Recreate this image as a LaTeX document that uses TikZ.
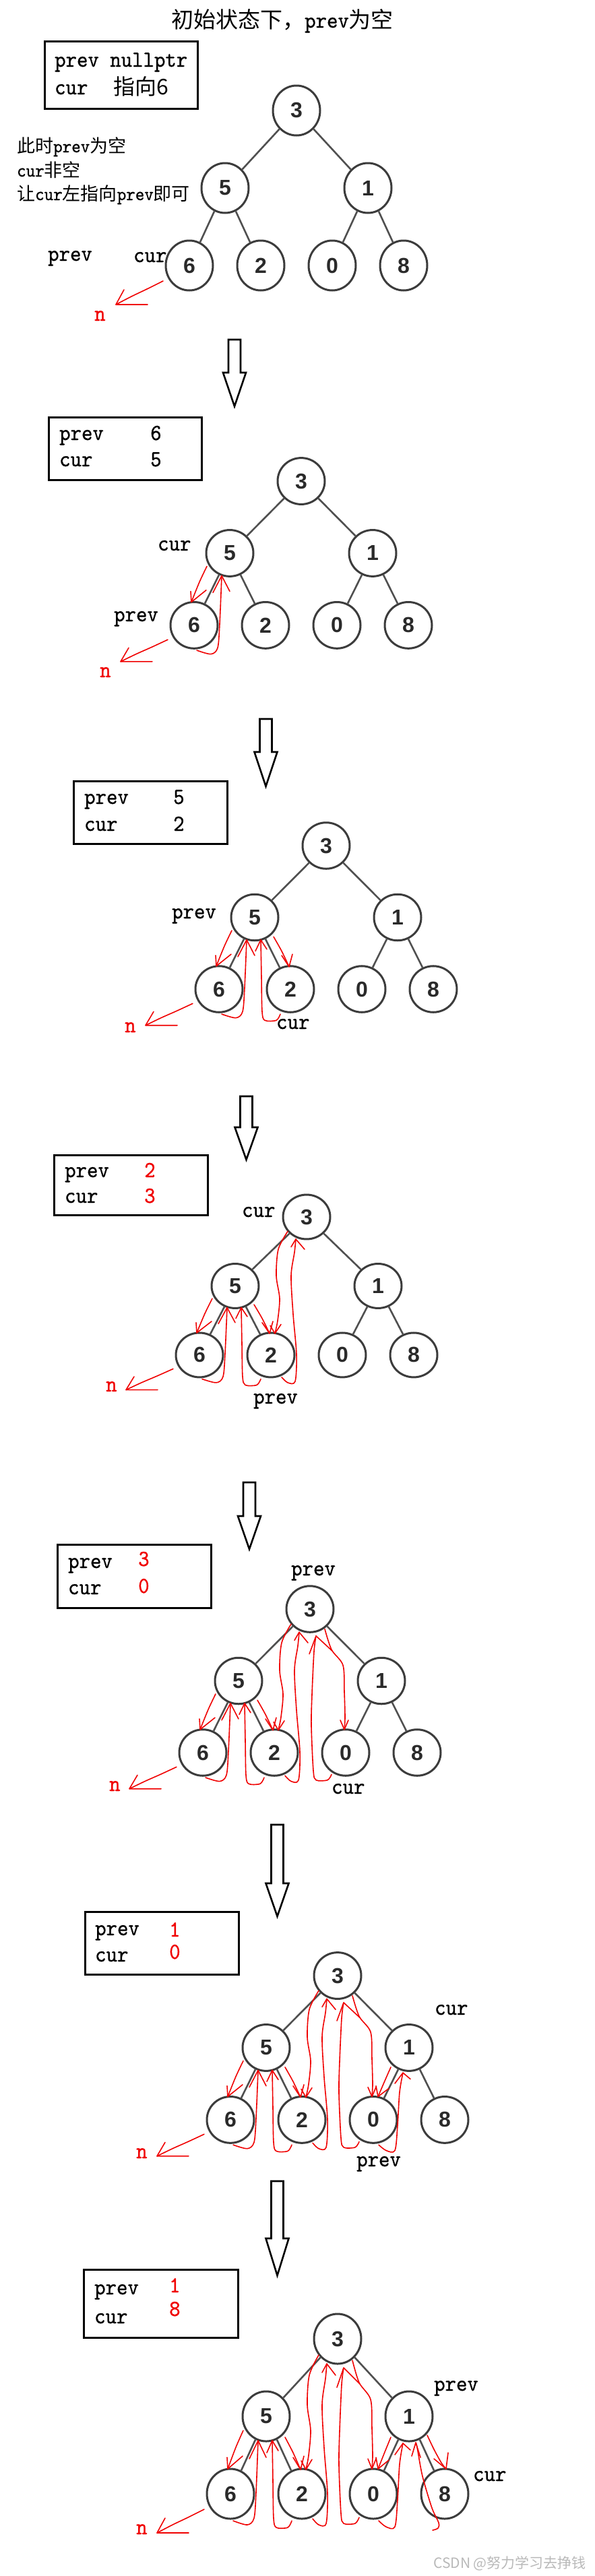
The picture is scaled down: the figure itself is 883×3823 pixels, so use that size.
\documentclass[tikz,border=0pt]{standalone}
\usepackage{fontspec}
\setmonofont{lmmono10-regular.otf}[FakeStretch=0.92,FakeBold=0.8]
\newfontfamily\cjk{Noto Sans CJK SC}
\newfontfamily\digf{Liberation Sans}
\usetikzlibrary{shapes.geometric}
\definecolor{tg}{RGB}{60,60,60}
\definecolor{eg}{RGB}{80,80,80}
\definecolor{rd}{RGB}{240,0,0}
\newcommand{\tts}{\ttfamily\fontsize{34pt}{34pt}\selectfont}
\newcommand{\ttsm}{\ttfamily\fontsize{28pt}{28pt}\selectfont}
\newcommand{\cjkb}{\cjk\fontsize{33pt}{33pt}\selectfont}
\newcommand{\cjkm}{\cjk\fontsize{32pt}{32pt}\selectfont}
\newcommand{\cjks}{\cjk\fontsize{27pt}{27pt}\selectfont}
\tikzset{
  tn/.style={ellipse, draw=tg, line width=3pt, fill=white, minimum width=70pt, inner sep=0pt,
    font={\digf\bfseries\fontsize{32pt}{32pt}\selectfont}, text=tg!70!black},
  edge/.style={draw=eg, line width=2.6pt},
  rl/.style={draw=rd, line width=1.6pt, line join=round, line cap=round},
  lbl/.style={inner sep=0pt, anchor=base west, font=\tts},
  boxr/.style={draw=black, line width=3pt},
  bigarrow/.style={draw=black, line width=2.6pt, fill=white, line join=miter}
}
\newcommand{\darrow}[4]{\draw[bigarrow] (#1-9,#2) -- (#1+9,#2) -- (#1+9,#3) -- (#1+17,#3) -- (#1,#4) -- (#1-17,#3) -- (#1-9,#3) -- cycle;}
\newcommand{\tree}[5]{%
\begin{scope}[shift={(#2,#3)},yscale=#4]
\node[tn,minimum height=74pt*#4] (#1n3) at (0,0) {3};
\node[tn,minimum height=74pt*#4] (#1n5) at (-106,115) {5};
\node[tn,minimum height=74pt*#4] (#1n1) at (106,115) {1};
\node[tn,minimum height=74pt*#4] (#1n6) at (-159,230) {6};
\node[tn,minimum height=74pt*#4] (#1n2) at (-53,230) {2};
\node[tn,minimum height=74pt*#4] (#1n0) at (53,230) {0};
\node[tn,minimum height=74pt*#4] (#1n8) at (159,230) {8};
\draw[edge] (#1n3) -- (#1n5); \draw[edge] (#1n3) -- (#1n1);
\draw[edge] (#1n5) -- (#1n6); \draw[edge] (#1n5) -- (#1n2);
\draw[edge] (#1n1) -- (#1n0); \draw[edge] (#1n1) -- (#1n8);
\draw[rl] plot[smooth,tension=0.5] coordinates {(-198,253) (-222,265) (-245,276) (-268,288)};
\draw[rl] (-256,266) -- (-268,288) -- (-221,288);
\ifnum#5>1
 \draw[rl] plot[smooth,tension=0.5] coordinates {(-140,136) (-151,161) (-163,193)};
 \draw[rl] (-164,176) -- (-163,193) -- (-141,174);
 \draw[rl] plot[smooth,tension=0.5] coordinates {(-155,270) (-134,276) (-124,266) (-121,228) (-118,151)};
 \draw[rl] (-131,178) -- (-118,151) -- (-106,176);
\fi
\ifnum#5>2
 \draw[rl] plot[smooth,tension=0.5] coordinates {(-68,270) (-74,280) (-91,280) (-95,266) (-96,211) (-97,151)};
 \draw[rl] (-105,169) -- (-97,151) -- (-88,166);
 \draw[rl] plot[smooth,tension=0.5] coordinates {(-78,146) (-66,169) (-55,194)};
 \draw[rl] (-66,176) -- (-55,194) -- (-50,174);
\fi
\ifnum#5>3
 \draw[rl] plot[smooth,tension=0.5] coordinates {(-28,24) (-42,54) (-45,98) (-40,136) (-43,173) (-47,194)};
 \draw[rl] (-54,181) -- (-47,194) -- (-38,179);
 \draw[rl] plot[smooth,tension=0.5] coordinates {(-37,267) (-28,276) (-17,274) (-15,229) (-20,162) (-23,98) (-18,59) (-16,37)};
 \draw[rl] (-23,50) -- (-16,37) -- (-3,54);
\fi
\ifnum#5>4
 \draw[rl] plot[smooth,tension=0.5] coordinates {(22,32) (32,65) (49,90) (51,133) (52,173) (51,193)};
 \draw[rl] (45,178) -- (51,193) -- (57,178);
 \draw[rl] plot[smooth,tension=0.5] coordinates {(32,265) (26,274) (9,274) (5,259) (2,187) (3,137) (6,68) (9,43)};
 \draw[rl] (-1,72) -- (9,43) -- (33,67);
\fi
\ifnum#5>5
 \draw[rl] plot[smooth,tension=0.5] coordinates {(79,146) (70,168) (60,193)};
 \draw[rl] (57,176) -- (60,193) -- (76,180);
 \draw[rl] plot[smooth,tension=0.5] coordinates {(61,270) (72,279) (85,279) (89,239) (92,186) (97,155)};
 \draw[rl] (85,172) -- (97,155) -- (108,165);
\fi
\ifnum#5>6
 \draw[rl] plot[smooth,tension=0.5] coordinates {(141,284) (149,281) (150,273) (140,251) (126,204) (118,161) (116,154)};
 \draw[rl] (110,174) -- (116,154) -- (123,176);
 \draw[rl] plot[smooth,tension=0.5] coordinates {(133,143) (143,164) (154,184) (161,193)};
 \draw[rl] (143,178) -- (161,193) -- (164,169);
\fi
\end{scope}}
\begin{document}
\begin{tikzpicture}[x=1pt,y=-1pt]
\fill[white] (0,0) rectangle (883,3823);
\useasboundingbox (0,0) rectangle (883,3823);
% ---------- panel 1
\node[anchor=base west, inner sep=0pt] (title) at (254,41) {{\cjkb 初始状态下，}{\tts prev}{\cjkb 为空}};
\draw[boxr] (66,61) rectangle (293,161);
\node[lbl] (b1a) at (81,99) {prev nullptr};
\node[lbl] (b1b) at (81,140) {cur};
\node[lbl, font=\cjkm] (b1c) at (168,140) {指向6};
\node[anchor=base west, inner sep=0pt] (c1) at (25,226) {{\cjks 此时}{\ttsm prev}{\cjks 为空}};
\node[anchor=base west, inner sep=0pt] (c2) at (25,262) {{\ttsm cur}{\cjks 非空}};
\node[anchor=base west, inner sep=0pt] (c3) at (25,297) {{\cjks 让}{\ttsm cur}{\cjks 左指向}{\ttsm prev}{\cjks 即可}};
\node[lbl] (l1p) at (71,387) {prev};
\node[lbl] (l1c) at (198,389) {cur};
\tree{pa}{440}{164}{1.0}{1}
\node[lbl, text=rd] (n1) at (140,476) {n};
% ---------- panel 2
\darrow{348}{504}{553}{603}
\draw[boxr] (72,619) rectangle (299,712);
\node[lbl] (b2a) at (88,653) {prev};
\node[lbl] (b2b) at (223,653) {6};
\node[lbl] (b2c) at (88,692) {cur};
\node[lbl] (b2d) at (223,692) {5};
\node[lbl] (l2c) at (234,817) {cur};
\node[lbl] (l2p) at (169,922) {prev};
\tree{pb}{447}{714}{0.93}{2}
\node[lbl, text=rd] (n2) at (148,1005) {n};
% ---------- panel 3
\darrow{394.5}{1067}{1116}{1167}
\draw[boxr] (109,1159) rectangle (337,1252);
\node[lbl] (b3a) at (125,1193) {prev};
\node[lbl] (b3b) at (257,1193) {5};
\node[lbl] (b3c) at (125,1233) {cur};
\node[lbl] (b3d) at (257,1233) {2};
\node[lbl] (l3p) at (255,1363) {prev};
\tree{pc}{484}{1255}{0.926}{3}
\node[lbl] (l3c) at (410,1527) {cur};
\node[lbl, text=rd] (n3) at (185,1532) {n};
% ---------- panel 4
\darrow{365.5}{1627}{1673}{1721}
\draw[boxr] (80,1714) rectangle (308,1803);
\node[lbl] (b4a) at (96,1747) {prev};
\node[lbl, text=rd] (b4b) at (214,1747) {2};
\node[lbl] (b4c) at (96,1785) {cur};
\node[lbl, text=rd] (b4d) at (214,1785) {3};
\node[lbl] (l4c) at (359,1806) {cur};
\tree{pd}{455}{1806}{0.891}{4}
\node[lbl] (l4p) at (376,2083) {prev};
\node[lbl, text=rd] (n4) at (157,2065) {n};
% ---------- panel 5
\darrow{370}{2200}{2250}{2299}
\draw[boxr] (85,2292) rectangle (313,2386);
\node[lbl] (b5a) at (101,2327) {prev};
\node[lbl, text=rd] (b5b) at (205,2324) {3};
\node[lbl] (b5c) at (101,2366) {cur};
\node[lbl, text=rd] (b5d) at (205,2364) {0};
\node[lbl] (l5p) at (432,2338) {prev};
\tree{pe}{460}{2388}{0.926}{5}
\node[lbl] (l5c) at (492,2662) {cur};
\node[lbl, text=rd] (n5) at (162,2658) {n};
% ---------- panel 6
\darrow{411.5}{2708}{2795}{2844}
\draw[boxr] (126,2837) rectangle (354,2930);
\node[lbl] (b6a) at (141,2872) {prev};
\node[lbl, text=rd] (b6b) at (251,2874) {1};
\node[lbl] (b6c) at (141,2911) {cur};
\node[lbl, text=rd] (b6d) at (251,2907) {0};
\node[lbl] (l6c) at (645,2990) {cur};
\tree{pf}{501}{2932}{0.93}{6}
\node[lbl] (l6p) at (529,3215) {prev};
\node[lbl, text=rd] (n6) at (202,3203) {n};
% ---------- panel 7
\darrow{411.5}{3237}{3322}{3377}
\draw[boxr] (124,3368) rectangle (353,3469);
\node[lbl] (b7a) at (140,3405) {prev};
\node[lbl, text=rd] (b7b) at (251,3402) {1};
\node[lbl] (b7c) at (140,3448) {cur};
\node[lbl, text=rd] (b7d) at (251,3437) {8};
\node[lbl] (l7p) at (644,3548) {prev};
\tree{pg}{501}{3471}{1.0}{7}
\node[lbl] (l7c) at (702,3682) {cur};
\node[lbl, text=rd] (n7) at (202,3761) {n};
\node[anchor=base east, inner sep=0pt, font={\cjk\fontsize{21pt}{21pt}\selectfont}, text=gray!55] (wm) at (870,3811) {CSDN @努力学习去挣钱};
\end{tikzpicture}
\end{document}
